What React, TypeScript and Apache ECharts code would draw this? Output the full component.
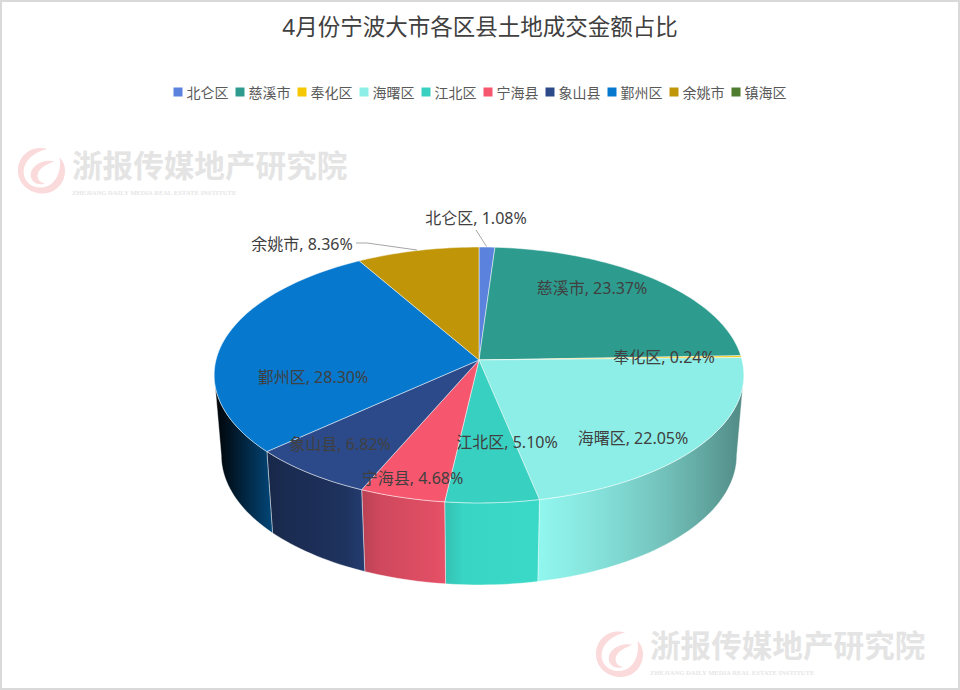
import React, { useEffect, useRef } from "react";
import * as echarts from "echarts";

const TITLE = "4月份宁波大市各区县土地成交金额占比";
const CATEGORIES = ["北仑区", "慈溪市", "奉化区", "海曙区", "江北区", "宁海县", "象山县", "鄞州区", "余姚市", "镇海区"];
const SHARES = [1.08, 23.37, 0.24, 22.05, 5.1, 4.68, 6.82, 28.3, 8.36, 0];
const COLORS = ["#5b83dd", "#2d9c8f", "#f5c800", "#8ceee6", "#38d0c0", "#f6566e", "#2c4a8a", "#0679cf", "#c09508", "#4e7d2f"];
const WATERMARK = "浙报传媒地产研究院";
const WATERMARK_SUB = "ZHEJIANG DAILY MEDIA REAL ESTATE INSTITUTE";

// Layout only (label centres in the picture)
const LABEL_CENTERS: Record<string, [number, number]> = {
  北仑区: [476, 218],
  慈溪市: [592, 288],
  奉化区: [664, 357],
  海曙区: [633, 438],
  江北区: [507, 442],
  宁海县: [412.5, 478],
  象山县: [340, 444],
  鄞州区: [313, 377],
  余姚市: [302, 244],
};

const FONT = '"Noto Sans", "Noto Sans CJK SC", sans-serif';
const CX = 479;
const TOP = { cy: 360, r: 263, s: 126.2 };
const BOTTOM = { cy: 440, r: 256, s: 128 };
const K = 0.117;
const VIS_FROM = 96.7;
const VIS_TO = 263.3;

const rad = (d: number) => (d * Math.PI) / 180;
function rim(deg: number, p: { cy: number; r: number; s: number }): number[] {
  const c = Math.cos(rad(deg));
  const s = Math.sin(rad(deg));
  const w = 1 + K * c;
  return [CX + (p.r * s) / w, p.cy - (p.s * c) / w];
}
function sampled(a: number, b: number, p: { cy: number; r: number; s: number }): number[][] {
  const n = Math.max(2, Math.ceil((b - a) / 1.5));
  const out: number[][] = [];
  for (let i = 0; i <= n; i++) out.push(rim(a + ((b - a) * i) / n, p));
  return out;
}

const LIGHT: number[][] = [
  [216, 0.03], [272, 0.58], [300, 0.6], [360, 0.72], [365, 0.82], [445, 0.93],
  [450, 1.02], [537, 1.04], [600, 0.95], [680, 0.78], [740, 0.58],
];
function lightAt(x: number) {
  if (x <= LIGHT[0][0]) return LIGHT[0][1];
  for (let i = 1; i < LIGHT.length; i++) {
    if (x <= LIGHT[i][0]) {
      const [x0, l0] = LIGHT[i - 1];
      const [x1, l1] = LIGHT[i];
      return l0 + ((l1 - l0) * (x - x0)) / (x1 - x0);
    }
  }
  return LIGHT[LIGHT.length - 1][1];
}
function shade(hex: string, l: number) {
  const n = parseInt(hex.slice(1), 16);
  const f = (v: number) => Math.min(255, Math.round(v * l));
  return `rgb(${f((n >> 16) & 255)},${f((n >> 8) & 255)},${f(n & 255)})`;
}

const EDGE = "rgba(255,255,255,0.6)";

function sliceSeries(idx: number) {
  const before = SHARES.slice(0, idx).reduce((a, b) => a + b, 0);
  return {
    type: "custom",
    name: CATEGORIES[idx],
    coordinateSystem: "none",
    itemStyle: { color: COLORS[idx] },
    data: [[SHARES[idx]]],
    z: 2,
    silent: true,
    renderItem: (_p: any, api: any) => {
      const v = api.value(0) as number;
      const a = (before / 100) * 360;
      const b = ((before + v) / 100) * 360;
      const children: any[] = [];
      const wa = Math.max(a, VIS_FROM);
      const wb = Math.min(b, VIS_TO);
      if (wb > wa) {
        const t = sampled(wa, wb, TOP);
        const bt = sampled(wa, wb, BOTTOM).reverse();
        const pts = t.concat(bt);
        const xs = pts.map((q) => q[0]);
        const minX = Math.min(...xs);
        const maxX = Math.max(...xs);
        const stops = [0, 0.2, 0.4, 0.6, 0.8, 1].map((o) => ({
          offset: o,
          color: shade(COLORS[idx], lightAt(minX + (maxX - minX) * o)),
        }));
        children.push({
          type: "polygon",
          shape: { points: pts },
          style: {
            fill: new echarts.graphic.LinearGradient(0, 0, 1, 0, stops),
            stroke: EDGE,
            lineWidth: 0.7,
          },
        });
      }
      if (b > a) {
        children.push({
          type: "polygon",
          shape: { points: [[CX, TOP.cy], ...sampled(a, b, TOP)] },
          style: { fill: COLORS[idx], stroke: EDGE, lineWidth: 0.8 },
        });
      }
      return { type: "group", children };
    },
  };
}

const labelSeries = {
  type: "custom",
  name: "labels",
  coordinateSystem: "none",
  z: 5,
  silent: true,
  data: CATEGORIES.map((_, i) => [SHARES[i], i]),
  renderItem: (_p: any, api: any) => {
    const i = api.value(1) as number;
    const center = LABEL_CENTERS[CATEGORIES[i]];
    if (!center) return null;
    return {
      type: "text",
      style: {
        x: center[0],
        y: center[1],
        text: `${CATEGORIES[i]}, ${(api.value(0) as number).toFixed(2)}%`,
        fill: "#404040",
        font: `16px ${FONT}`,
        align: "center",
        verticalAlign: "middle",
      },
    };
  },
};

const LOGO_PATH =
  "M62 3 C26 -6 0 20 0 50 C0 80 25 100 52 100 C80 100 100 78 100 50 C100 38 95 28 88 22 C94 47 82 85 52 87 C26 89 10 70 12 50 C14 26 36 9 62 3Z " +
  "M78 30 C52 24 27 40 27 60 C27 75 42 84 57 78 C44 76 39 65 43 55 C48 43 62 36 78 30Z";

function watermark(x: number, y: number, lx: number, ly: number) {
  return [
    {
      type: "wmlogo",
      x: lx,
      y: ly,
      scaleX: 0.47,
      scaleY: 0.46,
      style: { fill: "#fadadb" },
      z: 0,
    },
    {
      type: "text",
      x,
      y,
      style: { text: WATERMARK, fill: "#e4e4e4", font: `bold 30.6px ${FONT}`, verticalAlign: "middle" },
      z: 0,
    },
    {
      type: "text",
      x,
      y: y + 27,
      style: { text: WATERMARK_SUB, fill: "#e6e6e6", font: `bold 6.6px "Liberation Serif", serif`, verticalAlign: "middle" },
      z: 0,
    },
  ];
}

export default function App() {
  const ref = useRef<HTMLDivElement>(null);
  useEffect(() => {
    document.body.style.margin = "0";
    echarts.graphic.registerShape("wmlogo", echarts.graphic.extendPath(LOGO_PATH, {}) as any);
    const chart = echarts.init(ref.current!, undefined, { renderer: "svg" });
    chart.setOption({
      animation: false,
      backgroundColor: "#ffffff",
      textStyle: { fontFamily: FONT },
      title: {
        text: TITLE,
        left: "center",
        top: 10,
        textStyle: { fontSize: 22.5, fontWeight: "normal", color: "#404040", fontFamily: FONT },
      },
      legend: {
        data: CATEGORIES,
        left: "center",
        top: 80,
        icon: "rect",
        itemWidth: 9,
        itemHeight: 9,
        itemGap: 7,
        selectedMode: false,
        textStyle: { fontSize: 14, color: "#595959", fontFamily: FONT, padding: [0, 0, 0, -1] },
      },
      graphic: [
        {
          type: "rect",
          shape: { x: 1, y: 1, width: 958, height: 688 },
          style: { fill: "none", stroke: "#d9d9d9", lineWidth: 2 },
          z: 0,
          silent: true,
        },
        ...watermark(72, 165, 18, 147.5),
        ...watermark(650, 645, 596, 631),
        {
          type: "polyline",
          shape: { points: [[356, 243], [367, 243], [417, 250]] },
          style: { stroke: "#a6a6a6", lineWidth: 1, fill: "none" },
          z: 6,
        },
        {
          type: "polyline",
          shape: { points: [[476, 230], [486.5, 246.5]] },
          style: { stroke: "#a6a6a6", lineWidth: 1, fill: "none" },
          z: 6,
        },
      ],
      series: [...CATEGORIES.map((_, i) => sliceSeries(i)), labelSeries],
    });
    return () => chart.dispose();
  }, []);
  return <div ref={ref} style={{ width: 960, height: 690 }} />;
}
